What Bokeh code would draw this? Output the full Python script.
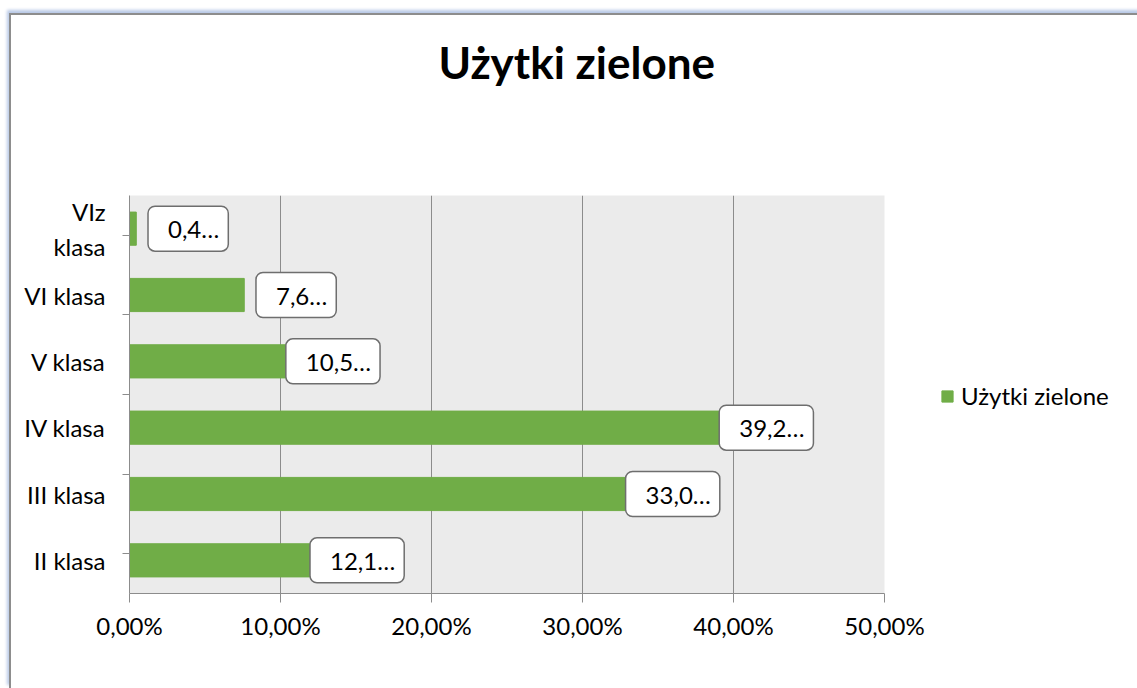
from bokeh.plotting import figure
from bokeh.models import (FactorRange, Range1d, FixedTicker, CategoricalAxis, LinearAxis,
                          CustomJSTickFormatter, ColumnDataSource, Legend, LegendItem)
from bokeh.core.properties import value
from bokeh.embed import file_html
from bokeh.resources import INLINE

# ---- data ----
categories = ["II klasa", "III klasa", "IV klasa", "V klasa", "VI klasa", "VIz\nklasa"]
values = [12.1, 33.0, 39.2, 10.5, 7.6, 0.45]
labels = ["12,1…", "33,0…", "39,2…", "10,5…", "7,6…", "0,4…"]
x_ticks = [0, 10, 20, 30, 40, 50]
series_name = "Użytki zielone"
title_text = "Użytki zielone"

FONT = "Lato"
GREEN = "#70ad47"
GRID = "#8c8c8c"

src = ColumnDataSource(dict(cat=categories, val=values, lab=labels))

p = figure(frame_width=755, frame_height=398, output_backend="svg", toolbar_location=None,
           y_range=FactorRange(*categories, range_padding=0),
           x_range=Range1d(0, 50), y_axis_location=None,
           min_border_left=118, min_border_right=253, min_border_top=180, min_border_bottom=95)
p.styles = {"margin-left": "9px", "margin-top": "13px",
            "border-left": "2px solid #8d8d8d", "border-top": "2px solid #8d8d8d",
            "box-shadow": "-2px -3px 3px #b9c9e6"}

# spacer between title and plot area (an invisible axis above with one long, uncoloured tick)
spacer = LinearAxis(ticker=FixedTicker(ticks=[0]), formatter=CustomJSTickFormatter(code="return '';"),
                    axis_line_color=None, major_tick_line_color=None, minor_tick_line_color=None,
                    major_tick_out=103, major_tick_in=0, minor_tick_out=0, major_label_standoff=0)
p.add_layout(spacer, "above")

p.title.text = title_text
p.title.text_font = FONT
p.title.text_font_size = "44px"
p.title.text_font_style = "bold"
p.title.align = "left"
p.title.offset = 309
p.title.text_color = "#000000"
p.title.standoff = 10

p.background_fill_color = "#ebebeb"
p.border_fill_color = "white"
p.outline_line_color = None

r = p.hbar(y="cat", right="val", left=0, height=0.5, source=src, color=GREEN)

p.text(x="val", y="cat", text="lab", source=src, x_offset=92, text_align="right",
       text_baseline="middle", text_font=value(FONT), text_font_size="24px", text_color="#000000",
       background_fill_color="white", border_line_color="#6e6e6e", border_line_width=1.5,
       border_radius=7, padding=dict(left=20, right=9, top=8, bottom=8))

# x axis
xa = p.below[0]
xa.ticker = FixedTicker(ticks=x_ticks)
xa.formatter = CustomJSTickFormatter(code="return tick.toFixed(2).replace('.', ',') + '%';")
xa.axis_line_color = GRID
xa.major_tick_line_color = GRID
xa.major_tick_out = 9
xa.major_tick_in = 0
xa.minor_tick_line_color = None
xa.major_label_text_font = FONT
xa.major_label_text_font_size = "24px"
xa.major_label_text_color = "#000000"
xa.major_label_standoff = 8

p.xgrid.ticker = FixedTicker(ticks=x_ticks)
p.xgrid.grid_line_color = GRID
p.ygrid.grid_line_color = None

# y boundary ticks: a second categorical range whose factor centres fall on category boundaries
bounds = [str(i) for i in range(len(categories) + 1)]
p.extra_y_ranges = {"bounds": FactorRange(*bounds, range_padding=-1, range_padding_units="absolute")}
ta = CategoricalAxis(y_range_name="bounds", formatter=CustomJSTickFormatter(code="return '';"))
ta.axis_line_color = GRID
ta.major_tick_line_color = GRID
ta.major_tick_out = 7
ta.major_tick_in = 0
ta.minor_tick_line_color = None
ta.major_label_standoff = 0
p.add_layout(ta, "left")

ca = CategoricalAxis()
ca.axis_line_color = None
ca.major_tick_line_color = None
ca.minor_tick_line_color = None
ca.major_label_text_font = FONT
ca.major_label_text_font_size = "24px"
ca.major_label_text_color = "#000000"
ca.major_label_standoff = 11
p.add_layout(ca, "left")

legend = Legend(items=[LegendItem(label=series_name, renderers=[r])],
                location=(56, 183), border_line_color=None, background_fill_alpha=0,
                glyph_width=14, glyph_height=14, label_standoff=7,
                label_text_font=FONT, label_text_font_size="24px", label_text_color="#000000",
                padding=0, margin=0)
p.add_layout(legend, "right")

open("out.html", "w").write(file_html(p, INLINE))
